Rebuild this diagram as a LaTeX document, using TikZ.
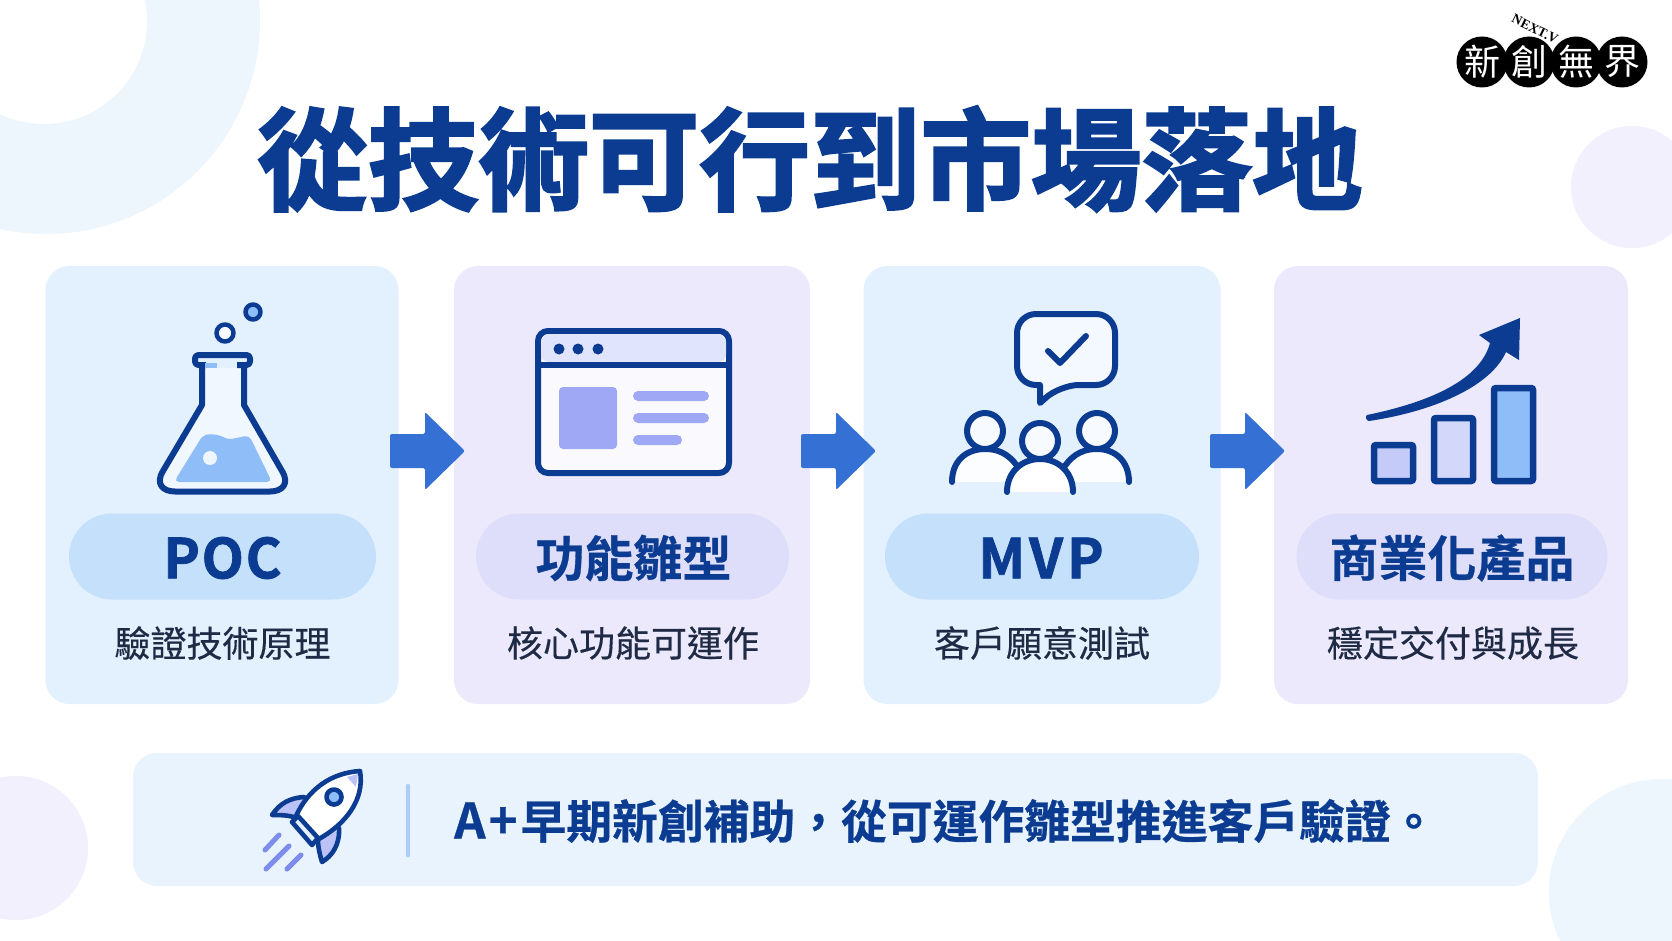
\documentclass[tikz,border=0pt]{standalone}
\usepackage{fontspec}
\setmainfont{Noto Sans CJK TC}
\newfontfamily\cjkm{Noto Sans CJK TC}[FakeBold=0.35]
\newfontfamily\cjkb{Noto Sans CJK TC Bold}[FakeBold=0.6]
\newfontfamily\cjkbb{Noto Sans CJK TC Bold}[FakeBold=2.4]
\newfontfamily\latb{Noto Sans CJK TC Bold}[FakeBold=1.3,LetterSpace=3]
\newfontfamily\latw{Noto Sans CJK TC Bold}[FakeBold=1.3,LetterSpace=7]
\newfontfamily\cjkl{Noto Sans CJK TC}
\newfontfamily\serifl{Liberation Serif Bold}
\definecolor{navy}{HTML}{0B3C92}
\definecolor{cardb}{HTML}{E3F0FE}
\definecolor{cardp}{HTML}{ECE9FC}
\definecolor{pillb}{HTML}{C4E0FB}
\definecolor{pillp}{HTML}{DEDEFA}
\definecolor{headbar}{HTML}{E0E4FC}
\definecolor{barbg}{HTML}{E8F3FE}
\definecolor{bgc}{HTML}{EDF5FD}
\definecolor{bgp}{HTML}{F2F0FC}
\definecolor{arrowb}{HTML}{3570D4}
\definecolor{liq}{HTML}{8FBDF8}
\definecolor{per}{HTML}{9EA8F5}
\definecolor{speed}{HTML}{7E8CEB}
\definecolor{sepc}{HTML}{A8CDF7}
\definecolor{ink}{HTML}{1F2A44}
\tikzset{
  x=1pt,y=-1pt,
  cardbox/.style={rounded corners=24pt,minimum height=438pt,inner sep=0pt},
  pillbox/.style={rounded corners=43pt,minimum height=86pt,inner sep=0pt},
  steptitle/.style={text=navy,inner sep=0pt,font=\fontsize{49}{49}\cjkb},
  steptext/.style={text=ink,font=\fontsize{36}{36}\cjkm},
  flow/.style={fill=arrowb,rounded corners=2pt,draw=none},
  iconline/.style={draw=navy,line width=6pt,line join=round,line cap=round},
  rocketline/.style={draw=navy,line width=4.6pt,line join=round,line cap=round},
  speedline/.style={draw=speed,line width=5pt,line cap=round},
  headc/.style={iconline,fill=white!70!cardb},
  barc/.style={draw=navy,line width=6.5pt,rounded corners=2pt},
  logodisc/.style={circle,fill=black,minimum size=51pt,inner sep=0pt,text=white,font=\fontsize{36}{36}\cjkl},
}
\begin{document}
\begin{tikzpicture}
\useasboundingbox (0,0) rectangle (1672,941);
\fill[white] (0,0) rectangle (1672,941);
% background discs
\fill[bgc] (46,20) circle (214);
\fill[white] (44,21) circle (103);
\fill[bgp] (1632,187) circle (61);
\fill[bgp] (16,848) circle (72);
\fill[bgc] (1662,892) circle (113);
% title
\node[text=navy,font=\fontsize{110.5}{110.5}\cjkbb,inner sep=0pt] (title) at (810,159) {從技術可行到市場落地};
% logo
\node[logodisc] (l1) at (1482,62) {新};
\node[logodisc] (l2) at (1529,62) {創};
\node[logodisc] (l3) at (1576,62) {無};
\node[logodisc] (l4) at (1622,62) {界};
\node[rotate=-26,font=\fontsize{13.5}{13.5}\serifl,inner sep=0pt] (lt) at (1535,29) {NEXT.V};
% cards
\node[cardbox,fill=cardb,minimum width=353pt] (c1) at (222,485) {};
\node[cardbox,fill=cardp,minimum width=356pt] (c2) at (632,485) {};
\node[cardbox,fill=cardb,minimum width=357pt] (c3) at (1042,485) {};
\node[cardbox,fill=cardp,minimum width=354pt] (c4) at (1451,485) {};
% pills
\node[pillbox,fill=pillb,minimum width=307pt] (p1) at (222.5,556.5) {};
\node[pillbox,fill=pillp,minimum width=313pt] (p2) at (632.5,556.5) {};
\node[pillbox,fill=pillb,minimum width=314pt] (p3) at (1042,556.5) {};
\node[pillbox,fill=pillp,minimum width=311pt] (p4) at (1452,556.5) {};
\node[steptitle,font=\fontsize{55}{55}\latb] (n1) at (222.5,558) {POC};
\node[steptitle] (n2) at (633.5,558) {功能雛型};
\node[steptitle,font=\fontsize{55}{55}\latw] (n3) at (1041,558) {MVP};
\node[steptitle] (n4) at (1452,558) {商業化產品};
\node[steptext] (t1) at (222.5,643) {驗證技術原理};
\node[steptext] (t2) at (633,643) {核心功能可運作};
\node[steptext] (t3) at (1042,643) {客戶願意測試};
\node[steptext] (t4) at (1453,643) {穩定交付與成長};
% arrows
\foreach \a in {390,801,1210}{
  \fill[flow] (\a,434) -- (\a+35,434) -- (\a+35,412) -- (\a+75,451) -- (\a+35,490) -- (\a+35,468) -- (\a,468) -- cycle;
}
% flask
\fill[white,opacity=.5] (205,368) -- (242,368) -- (242,405) -- (283,475) -- (280,491) -- (166,491) -- (163,475) -- (205,405) -- cycle;
\fill[liq,rounded corners=5pt] (174,482) -- (203,435) .. controls (220,433) and (226,440) .. (236,438) .. controls (241,437) and (245,436) .. (249,435) -- (272,482) -- cycle;
\fill[white,opacity=.85] (210,458) circle (7);
\draw[iconline] (202,367) -- (202,405) -- (163,471) .. controls (155,484) and (163,491.5) .. (175,491.5) -- (270,491.5) .. controls (282,491.5) and (290,484) .. (282,471) -- (244,405) -- (244,367);
\draw[iconline,line cap=butt,rounded corners=3.5pt] (237,365) -- (250,365) -- (250,355) -- (195,355) -- (195,365) -- (206,365);
\draw[draw=liq,line width=5pt] (205,365) -- (217,365);
\draw[iconline,line width=4.5pt,fill=white!70!cardb] (225,333) circle (8.5);
\draw[iconline,line width=4.5pt,fill=liq] (253,312) circle (7.5);
% browser
\draw[iconline,fill=white!75!cardp,rounded corners=10pt] (538,331) rectangle (729,473);
\fill[fill=headbar,rounded corners=8pt] (541,334) rectangle (726,362);
\draw[draw=navy,line width=5.5pt] (538,365) -- (729,365);
\fill[navy] (559,349) circle (5.5) (578,349) circle (5.5) (598,349) circle (5.5);
\fill[per,rounded corners=4pt] (559,387) rectangle (617,449);
\fill[per,rounded corners=5pt] (633,391) rectangle (709,401);
\fill[per,rounded corners=5pt] (633,413) rectangle (709,423);
\fill[per,rounded corners=5pt] (633,435) rectangle (682,445);
% speech bubble
\draw[iconline,fill=white!60!cardb,rounded corners=19pt] (1017,314) -- (1115,314) -- (1115,385) -- (1060,385) [sharp corners] -- (1040,403) -- (1040,385) [rounded corners=19pt] -- (1017,385) -- cycle;
\draw[iconline] (1048,351) -- (1060,363) -- (1086,336);
% people
\draw[headc] (985,431) circle (18);
\draw[headc] (1097,431) circle (18);
\fill[white!85!cardb] (952,482) .. controls (952,461) and (966,449) .. (985,449) .. controls (1003,449) and (1012,458) .. (1020,470) -- (1005,482) -- cycle;
\draw[iconline] (952,482) .. controls (952,461) and (966,449) .. (985,449) .. controls (1003,449) and (1012,458) .. (1020,470);
\fill[white!85!cardb] (1129,482) .. controls (1129,461) and (1115,449) .. (1097,449) .. controls (1079,449) and (1070,458) .. (1062,470) -- (1076,482) -- cycle;
\draw[iconline] (1129,482) .. controls (1129,461) and (1115,449) .. (1097,449) .. controls (1079,449) and (1070,458) .. (1062,470);
\draw[headc] (1040,441) circle (18);
\fill[white] (1007,492) .. controls (1007,472) and (1022,459) .. (1040,459) .. controls (1058,459) and (1073,472) .. (1073,492) -- cycle;
\draw[iconline] (1007,492) .. controls (1007,472) and (1022,459) .. (1040,459) .. controls (1058,459) and (1073,472) .. (1073,492);
% chart
\draw[barc,fill=per!60!white] (1374,445) rectangle (1413,481);
\draw[barc,fill=per!45!white] (1434,418) rectangle (1473,481);
\draw[barc,fill=liq] (1494,388) rectangle (1533,481);
\fill[navy] (1367,415) .. controls (1430,402) and (1480,380) .. (1490,343) -- (1479,335) -- (1520,318) -- (1519,360) -- (1506,352) .. controls (1490,388) and (1430,412) .. (1369,421) .. controls (1366,421) and (1365,416) .. (1367,415) -- cycle;
% bottom bar
\node[fill=barbg,rounded corners=24pt,minimum width=1405pt,minimum height=133pt,inner sep=0pt] (bar) at (835.5,819.5) {};
\node[text=navy,anchor=west,font=\fontsize{45.8}{45.8}\cjkb,inner sep=0pt] (bt) at (454,821) {{\fontsize{49}{49}\selectfont A\kern3pt+\kern3pt}早期新創補助，從可運作雛型推進客戶驗證。};
\coordinate (sa) at (408,786);
\coordinate (sb) at (408,855);
\draw[draw=sepc,line width=4.5pt,line cap=round] (sa) -- (sb);
% rocket
\draw[rocketline,fill=per!70!white] (297,818) .. controls (288,815) and (280,815) .. (272,815) .. controls (280,803) and (290,798) .. (304,797);
\draw[rocketline,fill=per!70!white] (318,840) .. controls (318,848) and (320,855) .. (322,862) .. controls (332,856) and (340,845) .. (339,828);
\draw[rocketline,fill=white] (296,816) .. controls (308,790) and (330,773) .. (360,771) .. controls (365,800) and (345,825) .. (317,840) -- cycle;
\fill[per!70!white] (347,777) -- (358,774) -- (356,787) -- cycle;
\draw[rocketline,fill=cardb] (292,822) -- (312,845) -- (318,838) -- (298,816) -- cycle;
\draw[rocketline,fill=liq] (334,797) circle (7.5);
\draw[speedline] (265,850) -- (279,835);
\draw[speedline] (266,869) -- (289,846);
\draw[speedline] (287,869) -- (301,855);
\end{tikzpicture}
\end{document}
